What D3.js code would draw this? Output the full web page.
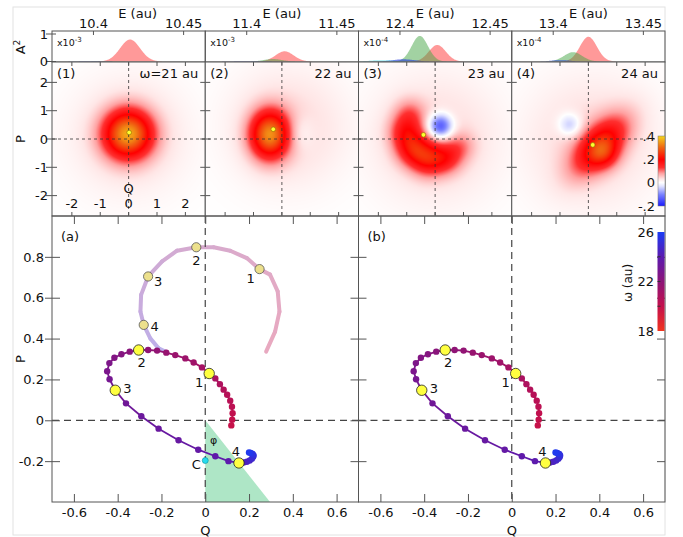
<!DOCTYPE html>
<html>
<head>
<meta charset="UTF-8">
<title>Wigner trajectory</title>
<script src="https://cdn.jsdelivr.net/npm/d3@7"></script>
<style>
  body { margin: 0; background: #fff; }
  text { font-family: "DejaVu Sans", Verdana, sans-serif; fill: #111; }
</style>
</head>
<body>
<script>
// ---------- data ----------
var eDomains = [[10.377, 10.462], [11.377, 11.462], [12.377, 12.462], [13.377, 13.462]];
var eTicks = [[10.4, 10.45], [11.4, 11.45], [12.4, 12.45], [13.4, 13.45]];
var panelTags = ["(1)", "(2)", "(3)", "(4)"];
var omegaTags = ["\u03c9=21 au", "22 au", "23 au", "24 au"];
var ampExp = ["-3", "-3", "-4", "-4"];

// spectral lines: [series, E0, height, width]
var spec1 = [["red", 10.4203, 0.80, 0.0055], ["green", 10.408, 0.015, 0.006], ["blue", 10.398, 0.02, 0.007]];
var spec2 = [["red", 11.4210, 0.37, 0.0050], ["green", 11.4145, 0.09, 0.005], ["blue", 11.400, 0.02, 0.008]];
var spec3 = [["red", 12.4207, 0.60, 0.0047], ["green", 12.4110, 0.93, 0.0045], ["blue", 12.402, 0.08, 0.006], ["cyan", 12.390, 0.04, 0.007]];
var spec4 = [["red", 13.4195, 0.90, 0.0047], ["green", 13.4110, 0.34, 0.0050], ["blue", 13.404, 0.05, 0.005]];

// Wigner blobs per panel: [Q0, P0, sMajor, sMinor, amplitude, angle (deg)]
var heat1 = [[-0.02, 0.17, 0.85, 0.85, 0.32, 0], [0, 0.1, 2.0, 2.0, 0.04, 0]];
var heat2 = [[-0.43, 0.15, 0.68, 0.84, 0.30, 0], [0.2, 0.4, 2.0, 2.0, 0.045, 0], [0.6, 0.2, 0.5, 0.6, -0.035, 0]];
var heat3 = [[-0.9, 0.9, 0.55, 0.55, 0.07, 0], [-1.05, 0.26, 0.58, 0.58, 0.11, 0], [-0.78, -0.36, 0.6, 0.6, 0.14, 0],
             [-0.22, -0.72, 0.6, 0.6, 0.14, 0], [0.43, -0.66, 0.55, 0.55, 0.10, 0], [0.93, -0.25, 0.5, 0.5, 0.05, 0],
             [0.18, 0.45, 0.42, 0.42, -0.18, 0], [0, 0, 2.2, 2.2, 0.045, 0]];
var heat4 = [[0.42, -0.22, 1.25, 0.65, 0.19, 47], [0.55, -0.52, 0.5, 0.5, 0.09, 0],
             [0.1, -0.1, 2.2, 2.2, 0.045, 0], [-0.65, 0.5, 0.4, 0.4, -0.08, 0]];

// trajectory (dots), coloured by omega
var curveQ = [0.119, 0.123, 0.125, 0.122, 0.114, 0.100, 0.084, 0.067, 0.046, 0.018, -0.015, -0.053, -0.091, -0.137,
              -0.178, -0.220, -0.261, -0.304, -0.345, -0.383, -0.415, -0.438, -0.448, -0.437, -0.411, -0.362, -0.292,
              -0.213, -0.122, -0.032, 0.046, 0.106, 0.154, 0.175, 0.190, 0.203, 0.213, 0.219, 0.221, 0.217, 0.208, 0.200];
var curveP = [-0.025, 0.003, 0.035, 0.066, 0.096, 0.125, 0.150, 0.177, 0.205, 0.229, 0.259, 0.283, 0.303, 0.319,
              0.331, 0.341, 0.344, 0.344, 0.336, 0.323, 0.306, 0.280, 0.240, 0.201, 0.147, 0.083, 0.020,
              -0.041, -0.098, -0.144, -0.176, -0.200, -0.209, -0.207, -0.203, -0.197, -0.188, -0.180, -0.172, -0.165, -0.160, -0.158];
var curveW = [19.9, 20.0, 20.1, 20.3, 20.4, 20.5, 20.6, 20.8, 20.9, 21.0, 21.1, 21.3, 21.4, 21.5,
              21.6, 21.8, 21.9, 22.0, 22.1, 22.3, 22.4, 22.6, 22.7, 22.9, 23.0, 23.1, 23.3,
              23.4, 23.5, 23.6, 23.8, 23.9, 24.0, 24.2, 24.4, 24.6, 24.8, 25.0, 25.2, 25.4, 25.6, 25.8];

// faint arc in (a)
var arcQ = [0.278, 0.319, 0.339, 0.331, 0.296, 0.248, 0.190, 0.114, 0.038, -0.041, -0.129, -0.197, -0.261, -0.293, -0.296, -0.281, -0.251, -0.213, -0.180];
var arcP = [0.336, 0.434, 0.532, 0.631, 0.713, 0.740, 0.794, 0.830, 0.847, 0.847, 0.830, 0.778, 0.704, 0.614, 0.532, 0.467, 0.401, 0.352, 0.335];
var arcW = [20.0, 20.3, 20.5, 20.7, 20.9, 21.0, 21.3, 21.5, 21.8, 22.0, 22.3, 22.6, 23.0, 23.3, 23.6, 24.0, 24.3, 24.6, 24.8];

// marked states 1..4
var markQ = [0.018, -0.304, -0.411, 0.154];
var markP = [0.229, 0.344, 0.147, -0.209];
var arcMarkQ = [0.248, -0.041, -0.261, -0.281];
var arcMarkP = [0.740, 0.847, 0.704, 0.467];
var markTags = ["1", "2", "3", "4"];

// wedge and centre point in (a)
var wedgeQ = [0, 0.296, 0];
var wedgeP = [0, -0.4, -0.4];
var centreQ = 0, centreP = -0.197;

var qTicks = [-0.6, -0.4, -0.2, 0, 0.2, 0.4, 0.6];
var pTicks = [-0.2, 0, 0.2, 0.4, 0.6, 0.8];
var heatTicks = [-2, -1, 0, 1, 2];
var heatBarTicks = [0.4, 0.2, 0, -0.2];
var heatBarLabels = [".4", ".2", "0", "-.2"];
var wBarTicks = [26, 22, 18];

// ---------- layout ----------
var W = 683, H = 537;
var left = 52, right = 665, pw = (right - left) / 4;
var stripTop = 31, stripBot = 62, heatBot = 216, plotBot = 502;
var mid = (left + right) / 2;

var svg = d3.select("body").append("svg").attr("width", W).attr("height", H);
svg.append("rect").attr("width", W).attr("height", H).attr("fill", "#fff");
svg.append("rect").attr("x", 13).attr("y", 7).attr("width", right - 13).attr("height", 528)
  .attr("fill", "none").attr("stroke", "#e2e2e2");

var heatColor = d3.scaleLinear()
  .domain([-0.2, -0.1, -0.03, 0, 0.03, 0.08, 0.13, 0.2, 0.3, 0.4])
  .range(["#1a1aff", "#7c84ff", "#e2e4ff", "#ffffff", "#ffe6e6", "#ffa0a0", "#ff3030", "#ff0000", "#f06412", "#f4d41c"])
  .clamp(true);
var wColor = d3.scaleLinear().domain([18, 20, 22, 24, 26])
  .range(["#f0341e", "#c4104c", "#8c1478", "#5a1ab0", "#1a3cf5"]);
var specColor = { red: "rgba(255,70,70,0.55)", green: "rgba(70,165,70,0.5)",
                  blue: "rgba(30,50,220,0.6)", cyan: "rgba(0,210,225,0.55)" };
var specs = [spec1, spec2, spec3, spec4];
var heats = [heat1, heat2, heat3, heat4];

var frame = "#555";

// ---------- spectra strip ----------
var ay = d3.scaleLinear().domain([0, 1]).range([61.5, 34]);
specs.forEach(function(spec, i) {
  var x0 = left + i * pw;
  var ex = d3.scaleLinear().domain(eDomains[i]).range([x0, x0 + pw]);
  var es = d3.range(x0, x0 + pw + 0.5, 0.5).map(function(px) { return ex.invert(px); });
  var area = d3.area().x(function(d) { return ex(d.e); }).y0(ay(0)).y1(function(d) { return ay(d.v); });
  ["red", "green", "blue", "cyan"].forEach(function(series) {
    spec.filter(function(s) { return s[0] === series; }).forEach(function(s) {
      var pts = es.map(function(e) {
        return { e: e, v: s[2] * Math.exp(-(e - s[1]) * (e - s[1]) / (2 * s[3] * s[3])) };
      });
      svg.append("path").datum(pts).attr("d", area).attr("fill", specColor[series]);
    });
  });
  svg.append("rect").attr("x", x0).attr("y", stripTop).attr("width", pw).attr("height", stripBot - stripTop)
    .attr("fill", "none").attr("stroke", frame);
  eTicks[i].forEach(function(t) {
    svg.append("line").attr("x1", ex(t)).attr("x2", ex(t)).attr("y1", stripTop).attr("y2", stripTop + 4).attr("stroke", frame);
    svg.append("text").attr("x", ex(t)).attr("y", 28).attr("text-anchor", "middle").attr("font-size", 13)
      .text(t === Math.round(t * 10) / 10 ? t.toFixed(1) : t.toFixed(2));
  });
  svg.append("text").attr("x", x0 + pw / 2 + (i === 0 ? 9 : 0)).attr("y", 18).attr("text-anchor", "middle")
    .attr("font-size", 13).text("E (au)");
  var xl = svg.append("text").attr("x", x0 + 5).attr("y", 46).attr("font-size", 9.5).text("x10");
  xl.append("tspan").attr("dy", -4).attr("font-size", 7).text(ampExp[i]);
});
[0, 1].forEach(function(t) {
  svg.append("line").attr("x1", left - 6).attr("x2", left + 4).attr("y1", ay(t)).attr("y2", ay(t)).attr("stroke", frame);
  svg.append("text").attr("x", 48).attr("y", ay(t)).attr("dy", "0.36em").attr("text-anchor", "end")
    .attr("font-size", 13).text(t);
});
var a2 = svg.append("text").attr("transform", "translate(25,47) rotate(-90)").attr("text-anchor", "middle")
  .attr("font-size", 13).text("A");
a2.append("tspan").attr("dy", -5).attr("font-size", 9).text("2");

// ---------- Wigner heatmaps ----------
var hy = d3.scaleLinear().domain([-2.72, 2.72]).range([heatBot, stripBot]);
heats.forEach(function(blobs, i) {
  var x0 = left + i * pw;
  var hx = d3.scaleLinear().domain([-2.7, 2.7]).range([x0, x0 + pw]);
  var cw = Math.round(pw), ch = heatBot - stripBot;
  var canvas = document.createElement("canvas");
  canvas.width = cw; canvas.height = ch;
  var ctx = canvas.getContext("2d");
  var img = ctx.createImageData(cw, ch);
  var rot = blobs.map(function(b) { var a = b[5] * Math.PI / 180; return [Math.cos(a), Math.sin(a)]; });
  for (var r = 0; r < ch; r++) {
    var p = hy.invert(stripBot + r + 0.5);
    for (var c = 0; c < cw; c++) {
      var q = hx.invert(x0 + (c + 0.5) * pw / cw);
      var v = 0;
      blobs.forEach(function(b, n) {
        var dq = q - b[0], dp = p - b[1];
        var u = (dq * rot[n][0] + dp * rot[n][1]) / b[2];
        var w = (-dq * rot[n][1] + dp * rot[n][0]) / b[3];
        v += b[4] * Math.exp(-u * u - w * w);
      });
      var col = d3.rgb(heatColor(v));
      var k = (r * cw + c) * 4;
      img.data[k] = col.r; img.data[k + 1] = col.g; img.data[k + 2] = col.b; img.data[k + 3] = 255;
    }
  }
  ctx.putImageData(img, 0, 0);
  svg.append("image").attr("x", x0).attr("y", stripBot).attr("width", pw).attr("height", ch)
    .attr("preserveAspectRatio", "none").attr("href", canvas.toDataURL());

  svg.append("line").attr("x1", hx(0)).attr("x2", hx(0)).attr("y1", stripBot).attr("y2", heatBot)
    .attr("stroke", "#333").attr("stroke-width", 0.8).attr("stroke-dasharray", "3,3");
  heatTicks.forEach(function(t) {
    svg.append("line").attr("x1", hx(t)).attr("x2", hx(t)).attr("y1", stripBot).attr("y2", stripBot + 4).attr("stroke", frame);
    svg.append("line").attr("x1", hx(t)).attr("x2", hx(t)).attr("y1", heatBot).attr("y2", heatBot - 4).attr("stroke", frame);
    svg.append("line").attr("x1", x0).attr("x2", x0 + 5).attr("y1", hy(t)).attr("y2", hy(t)).attr("stroke", frame);
    svg.append("line").attr("x1", x0 + pw).attr("x2", x0 + pw - 5).attr("y1", hy(t)).attr("y2", hy(t)).attr("stroke", frame);
  });
  svg.append("rect").attr("x", x0).attr("y", stripBot).attr("width", pw).attr("height", ch)
    .attr("fill", "none").attr("stroke", frame);
  svg.append("circle").attr("cx", hx(markQ[i])).attr("cy", hy(markP[i])).attr("r", 2.3)
    .attr("fill", "#ffff30").attr("stroke", "#8a6a00").attr("stroke-width", 0.6);
  svg.append("text").attr("x", x0 + 5).attr("y", 78).attr("font-size", 13).text(panelTags[i]);
  svg.append("text").attr("x", x0 + pw - 7).attr("y", 78).attr("text-anchor", "end").attr("font-size", 13).text(omegaTags[i]);
  if (i === 0) {
    heatTicks.forEach(function(t) {
      svg.append("text").attr("x", hx(t)).attr("y", 208).attr("text-anchor", "middle").attr("font-size", 13).text(String(t));
      svg.append("line").attr("x1", left - 6).attr("x2", left).attr("y1", hy(t)).attr("y2", hy(t)).attr("stroke", frame);
      svg.append("text").attr("x", 48).attr("y", hy(t)).attr("dy", "0.36em").attr("text-anchor", "end")
        .attr("font-size", 13).text(String(t));
    });
    svg.append("text").attr("x", hx(0)).attr("y", 193).attr("text-anchor", "middle").attr("font-size", 13).text("Q");
  }
});
svg.append("line").attr("x1", left).attr("x2", right).attr("y1", hy(0)).attr("y2", hy(0))
  .attr("stroke", "#333").attr("stroke-width", 0.8).attr("stroke-dasharray", "3,3");
svg.append("text").attr("transform", "translate(25," + hy(0) + ") rotate(-90)").attr("text-anchor", "middle")
  .attr("font-size", 13).text("P");

// heat colour bar
var hb = d3.scaleLinear().domain([-0.2, 0.4]).range([206, 136]);
var defs = svg.append("defs");
var hg = defs.append("linearGradient").attr("id", "hgrad").attr("x1", 0).attr("x2", 0).attr("y1", 1).attr("y2", 0);
d3.range(-0.2, 0.4001, 0.01).forEach(function(v) {
  hg.append("stop").attr("offset", (v + 0.2) / 0.6).attr("stop-color", heatColor(v));
});
svg.append("rect").attr("x", 658).attr("y", hb(0.4)).attr("width", 7).attr("height", hb(-0.2) - hb(0.4))
  .attr("fill", "url(#hgrad)").attr("stroke", "#777").attr("stroke-width", 0.5);
heatBarTicks.forEach(function(t, k) {
  svg.append("text").attr("x", 655).attr("y", hb(t)).attr("dy", "0.36em").attr("text-anchor", "end")
    .attr("font-size", 13).text(heatBarLabels[k]);
});

// ---------- trajectory panels ----------
var py = d3.scaleLinear().domain([-0.4, 1.0]).range([plotBot, heatBot]);

function mixWhite(c, a) { return d3.interpolateRgb("#ffffff", c)(a); }

function trajPanel(x0, x1, tag, full) {
  var qx = d3.scaleLinear().domain([-0.7, 0.7]).range([x0, x1]);
  var g = svg.append("g");

  if (full) {
    g.append("polygon").attr("points", wedgeQ.map(function(q, k) { return qx(q) + "," + py(wedgeP[k]); }).join(" "))
      .attr("fill", "#aee6c6");
    for (var k = 0; k < arcQ.length - 1; k++) {
      g.append("line").attr("x1", qx(arcQ[k])).attr("y1", py(arcP[k]))
        .attr("x2", qx(arcQ[k + 1])).attr("y2", py(arcP[k + 1]))
        .attr("stroke", mixWhite(wColor((arcW[k] + arcW[k + 1]) / 2), 0.36))
        .attr("stroke-width", 4).attr("stroke-linecap", "round");
    }
  }

  g.append("line").attr("x1", qx(0)).attr("x2", qx(0)).attr("y1", heatBot).attr("y2", plotBot)
    .attr("stroke", "#444").attr("stroke-width", 1.2).attr("stroke-dasharray", "7,5");
  g.append("line").attr("x1", x0).attr("x2", x1).attr("y1", py(0)).attr("y2", py(0))
    .attr("stroke", "#444").attr("stroke-width", 1.2).attr("stroke-dasharray", "7,5");

  if (full) {
    arcMarkQ.forEach(function(q, k) {
      g.append("circle").attr("cx", qx(q)).attr("cy", py(arcMarkP[k])).attr("r", 4.6)
        .attr("fill", "#ece08c").attr("stroke", "#555").attr("stroke-width", 0.8);
    });
    var adx = [-9, 0, 10, 11], ady = [9, 13, 5, 1];
    markTags.forEach(function(t, k) {
      g.append("text").attr("x", qx(arcMarkQ[k]) + adx[k]).attr("y", py(arcMarkP[k]) + ady[k]).attr("dy", "0.36em")
        .attr("text-anchor", "middle").attr("font-size", 13).text(t);
    });
  }

  for (var j = 0; j < curveQ.length - 1; j++) {
    g.append("line").attr("x1", qx(curveQ[j])).attr("y1", py(curveP[j]))
      .attr("x2", qx(curveQ[j + 1])).attr("y2", py(curveP[j + 1]))
      .attr("stroke", wColor((curveW[j] + curveW[j + 1]) / 2)).attr("stroke-width", 1.8);
  }
  g.selectAll("circle.dot").data(curveQ).enter().append("circle").attr("class", "dot")
    .attr("cx", function(d) { return qx(d); })
    .attr("cy", function(d, k) { return py(curveP[k]); })
    .attr("r", 3.2)
    .attr("fill", function(d, k) { return wColor(curveW[k]); });

  if (full) {
    g.append("circle").attr("cx", qx(centreQ)).attr("cy", py(centreP)).attr("r", 3)
      .attr("fill", "#26dcee").attr("stroke", "#0a8fa0").attr("stroke-width", 0.6);
    g.append("text").attr("x", qx(centreQ) - 9).attr("y", py(centreP) + 4).attr("dy", "0.36em")
      .attr("text-anchor", "middle").attr("font-size", 13).text("C");
    g.append("text").attr("x", qx(0.038)).attr("y", py(-0.098)).attr("dy", "0.36em")
      .attr("text-anchor", "middle").attr("font-size", 11).text("\u03c6");
  }

  markQ.forEach(function(q, k) {
    g.append("circle").attr("cx", qx(q)).attr("cy", py(markP[k])).attr("r", 5.2)
      .attr("fill", "#ffff40").attr("stroke", "#222").attr("stroke-width", 0.8);
  });
  var mdx = [-10, 3, 12, -3], mdy = [9, 12, -2, -12];
  markTags.forEach(function(t, k) {
    g.append("text").attr("x", qx(markQ[k]) + mdx[k]).attr("y", py(markP[k]) + mdy[k]).attr("dy", "0.36em")
      .attr("text-anchor", "middle").attr("font-size", 13).text(t);
  });

  // axes
  var ax = g.append("g").attr("transform", "translate(0," + plotBot + ")")
    .call(d3.axisBottom(qx).tickValues(qTicks).tickSize(-8).tickPadding(6)
      .tickFormat(function(d) { return d === 0 ? "0" : d.toFixed(1); }));
  g.append("g").attr("transform", "translate(0," + heatBot + ")")
    .call(d3.axisTop(qx).tickValues(qTicks).tickSize(-8).tickFormat(""));
  var al = g.append("g").attr("transform", "translate(" + x0 + ",0)")
    .call(d3.axisLeft(py).tickValues(pTicks).tickSize(-8).tickPadding(8)
      .tickFormat(function(d) { return d === 0 ? "0" : d.toFixed(1); }));
  g.append("g").attr("transform", "translate(" + x1 + ",0)")
    .call(d3.axisRight(py).tickValues(pTicks).tickSize(-8).tickFormat(""));
  if (full) {
    g.append("g").attr("transform", "translate(" + x0 + ",0)")
      .call(d3.axisLeft(py).tickValues(pTicks).tickSize(7).tickFormat(""));
  } else {
    al.selectAll("text").remove();
  }
  g.selectAll(".domain").remove();
  g.selectAll(".tick line").attr("stroke", frame);
  [ax, al].forEach(function(a) { a.attr("font-family", null).attr("font-size", null); });
  g.selectAll(".tick text").attr("font-size", 13).attr("fill", "#111");

  g.append("rect").attr("x", x0).attr("y", heatBot).attr("width", x1 - x0).attr("height", plotBot - heatBot)
    .attr("fill", "none").attr("stroke", frame);
  g.append("text").attr("x", x0 + 9).attr("y", 241).attr("font-size", 13).text(tag);
  g.append("text").attr("x", qx(0)).attr("y", 535).attr("text-anchor", "middle").attr("font-size", 13).text("Q");
}

trajPanel(left, mid, "(a)", true);
trajPanel(mid, right, "(b)", false);
svg.append("text").attr("transform", "translate(25," + py(0.3) + ") rotate(-90)").attr("text-anchor", "middle")
  .attr("font-size", 13).text("P");

// omega colour bar
var wb = d3.scaleLinear().domain([18, 26]).range([331, 232]);
var wg = defs.append("linearGradient").attr("id", "wgrad").attr("x1", 0).attr("x2", 0).attr("y1", 1).attr("y2", 0);
[18, 20, 22, 24, 26].forEach(function(v) {
  wg.append("stop").attr("offset", (v - 18) / 8).attr("stop-color", wColor(v));
});
svg.append("rect").attr("x", 657.5).attr("y", wb(26)).attr("width", 7).attr("height", wb(18) - wb(26))
  .attr("fill", "url(#wgrad)");
[20, 22, 24].forEach(function(v) {
  svg.append("line").attr("x1", 657.5).attr("x2", 660.5).attr("y1", wb(v)).attr("y2", wb(v)).attr("stroke", "#333");
});
wBarTicks.forEach(function(t) {
  svg.append("text").attr("x", 654).attr("y", wb(t)).attr("dy", "0.36em").attr("text-anchor", "end")
    .attr("font-size", 13).text(t);
});
svg.append("text").attr("transform", "translate(632,283) rotate(-90)").attr("text-anchor", "middle")
  .attr("font-size", 12).text("\u03c9 (au)");
</script>
</body>
</html>
